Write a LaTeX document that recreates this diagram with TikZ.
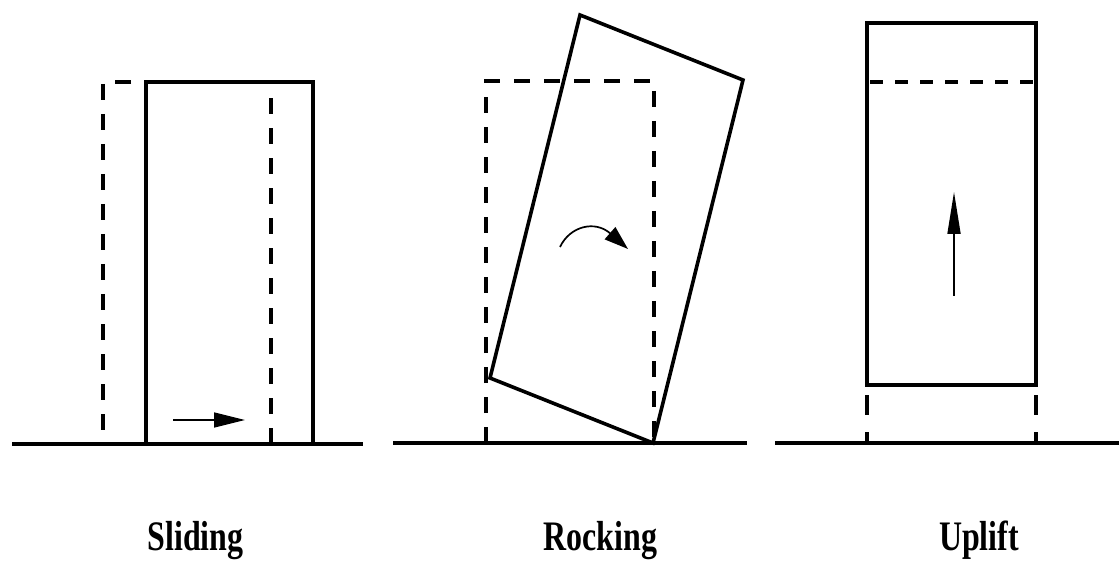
\documentclass[tikz,border=0pt]{standalone}
\usepackage{fontspec}
\setmainfont{Liberation Serif}
\usetikzlibrary{arrows.meta}
\tikzset{
  solidline/.style={line width=3.6pt, line cap=rect, line join=miter},
  dashline/.style={line width=3.4pt, dash pattern=on 16pt off 14pt},
  hdashline/.style={line width=3.6pt, dash pattern=on 13pt off 12pt},
  groundline/.style={line width=3.8pt},
  motion/.style={line width=1.7pt},
  lbl/.style={anchor=base, inner sep=0pt, font=\fontsize{42}{44}\selectfont\bfseries, xscale=0.76}
}
\begin{document}
\begin{tikzpicture}[x=1pt,y=-1pt]
\useasboundingbox (0,0) rectangle (1119,561);
% ---------- Sliding ----------
\draw[groundline] (12,444) -- (363,444);
\draw[dashline, dash phase=0pt] (131,82) -- (103,82) -- (103,444);
\draw[dashline] (271,444) -- (271,82);
\draw[solidline] (146,444) -- (146,82) -- (313,82) -- (313,444);
\coordinate (s1) at (173,420);
\coordinate (s2) at (245,420);
\draw[motion, -{Triangle[length=31pt,width=15pt]}] (s1) -- (s2);
\node[lbl] (sliding) at (195.5,550) {Sliding};
% ---------- Rocking ----------
\draw[groundline] (393,443) -- (747,443);
\draw[dashline] (486,443) -- (486,81) -- (654,81) -- (654,443);
\draw[solidline, line join=miter] (580,15) -- (743,80) -- (653,443) -- (490,378) -- cycle;
\coordinate (r1) at (560,247);
\coordinate (r2) at (628,249);
\draw[motion, -{Triangle[length=24pt,width=16pt]}] (r1) .. controls (570,226) and (595,220) .. (r2);
\node[lbl] (rocking) at (600.5,550) {Rocking};
% ---------- Uplift ----------
\draw[groundline] (775,443) -- (1119,443);
\draw[hdashline, dash phase=-2pt] (868,82) -- (1036,82);
\draw[dashline, dash pattern=on 20pt off 17pt, dash phase=-10pt] (867,385) -- (867,443);
\draw[dashline, dash pattern=on 20pt off 17pt, dash phase=-10pt] (1036,385) -- (1036,443);
\draw[solidline] (867,23) rectangle (1036,385);
\coordinate (u1) at (954,296);
\coordinate (u2) at (954,192);
\draw[motion, -{Triangle[length=42pt,width=13pt]}] (u1) -- (u2);
\node[lbl] (uplift) at (979,550) {Uplift};
\end{tikzpicture}
\end{document}
